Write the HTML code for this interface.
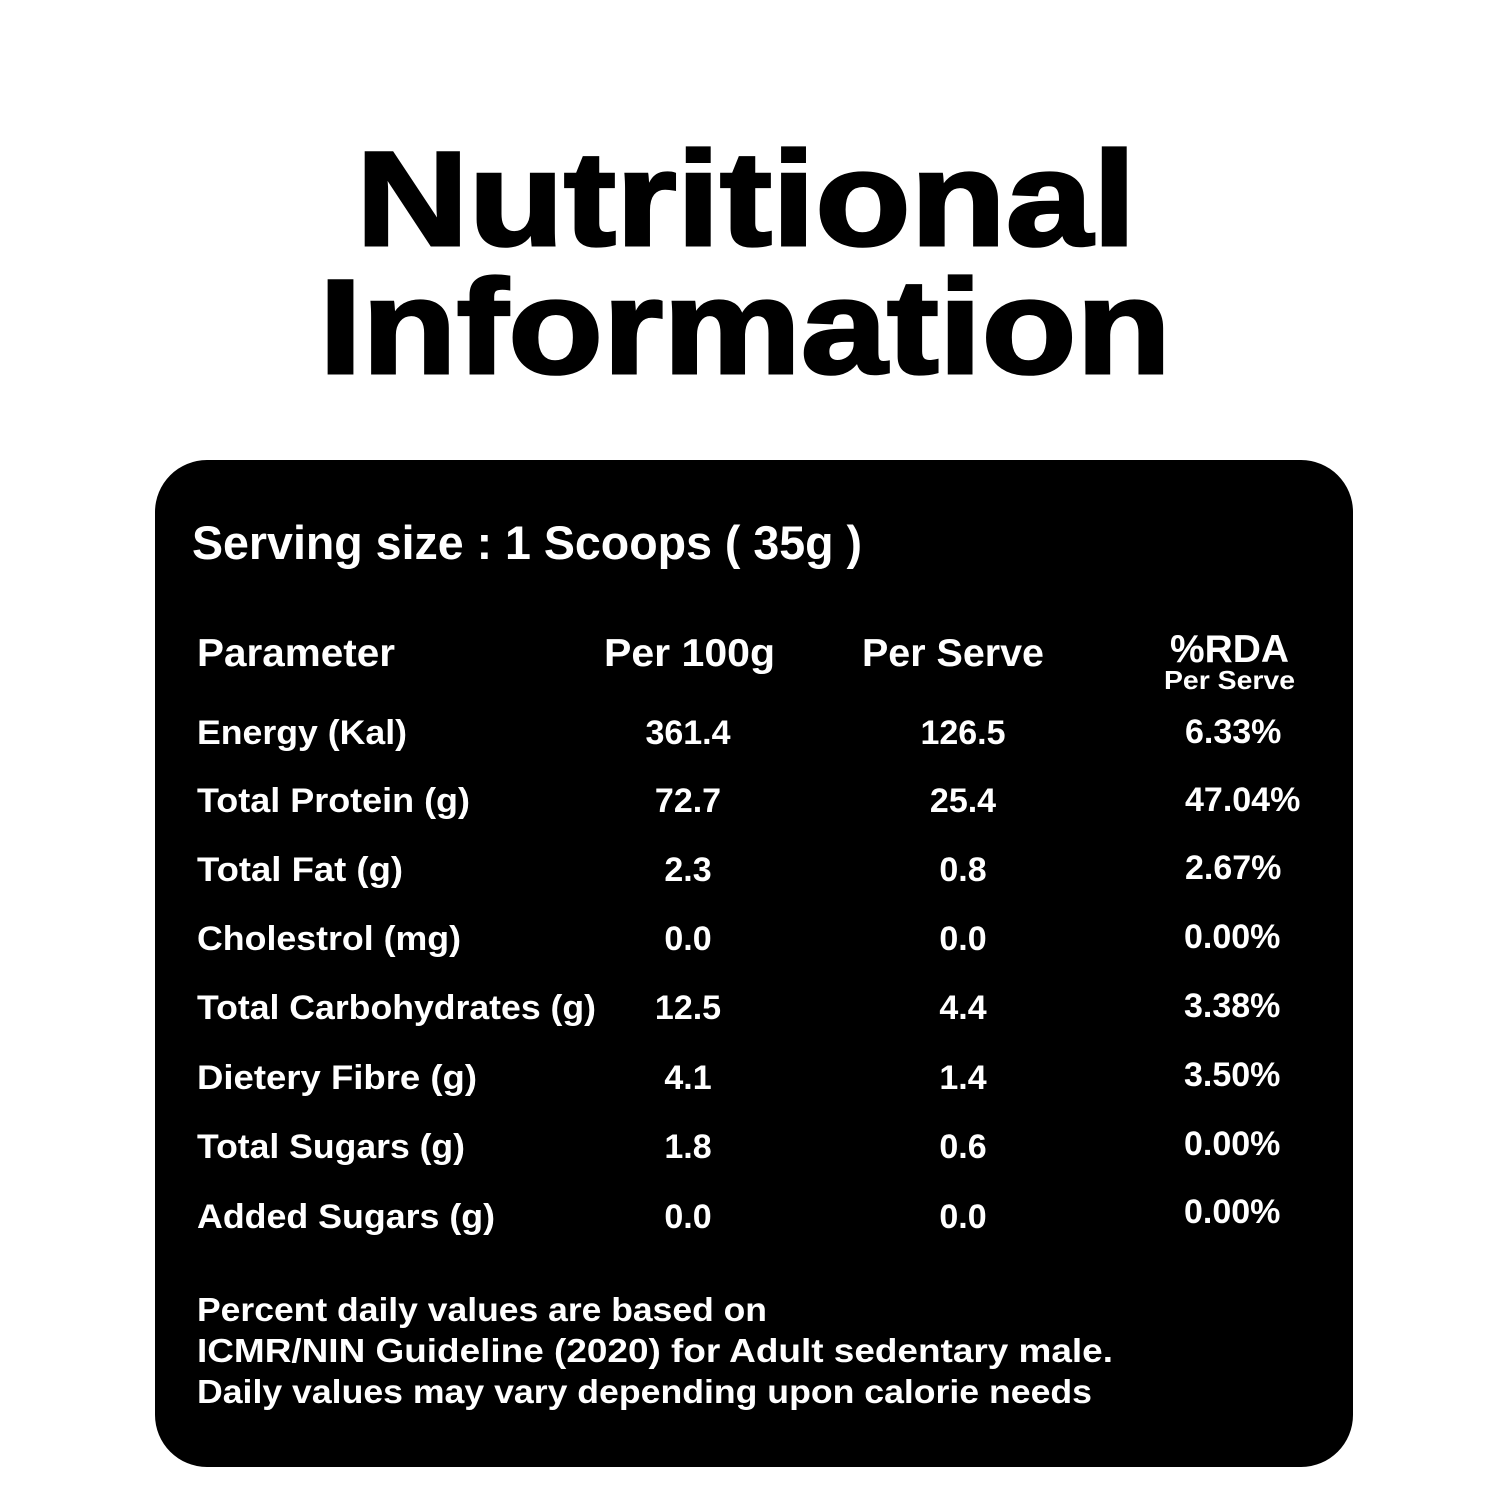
<!DOCTYPE html>
<html><head><meta charset="utf-8"><style>
html,body{margin:0;padding:0;background:#fff;}
svg{display:block;}
text{font-family:"Liberation Sans",sans-serif;font-weight:bold;fill:#fff;}
</style></head><body>
<svg width="1499" height="1499" viewBox="0 0 1499 1499" xmlns="http://www.w3.org/2000/svg">
<rect width="1499" height="1499" fill="#fff"/>
<text x="356" y="245" font-size="134" style="fill:#000;stroke:#000;stroke-width:3" textLength="780" lengthAdjust="spacingAndGlyphs">Nutritional</text>
<text x="319" y="373" font-size="134" style="fill:#000;stroke:#000;stroke-width:3" textLength="852" lengthAdjust="spacingAndGlyphs">Information</text>
<rect x="155" y="460" width="1198" height="1007" rx="52" fill="#000"/>
<text x="192" y="559" font-size="47" textLength="670" lengthAdjust="spacingAndGlyphs">Serving size : 1 Scoops ( 35g )</text>
<g font-size="39">
<text x="197" y="666" textLength="198" lengthAdjust="spacingAndGlyphs">Parameter</text>
<text x="604" y="666" textLength="171" lengthAdjust="spacingAndGlyphs">Per 100g</text>
<text x="862" y="666" textLength="182" lengthAdjust="spacingAndGlyphs">Per Serve</text>
<text x="1170" y="662" textLength="119" lengthAdjust="spacingAndGlyphs">%RDA</text>
</g>
<text x="1164" y="689" font-size="26" textLength="131" lengthAdjust="spacingAndGlyphs">Per Serve</text>
<g font-size="34" font-weight="normal">
<text x="197" y="744" textLength="210" lengthAdjust="spacingAndGlyphs">Energy (Kal)</text>
<text x="197" y="812" textLength="273" lengthAdjust="spacingAndGlyphs">Total Protein (g)</text>
<text x="197" y="881" textLength="206" lengthAdjust="spacingAndGlyphs">Total Fat (g)</text>
<text x="197" y="950" textLength="264" lengthAdjust="spacingAndGlyphs">Cholestrol (mg)</text>
<text x="197" y="1019" textLength="399" lengthAdjust="spacingAndGlyphs">Total Carbohydrates (g)</text>
<text x="197" y="1089" textLength="280" lengthAdjust="spacingAndGlyphs">Dietery Fibre (g)</text>
<text x="197" y="1158" textLength="268" lengthAdjust="spacingAndGlyphs">Total Sugars (g)</text>
<text x="197" y="1228" textLength="298" lengthAdjust="spacingAndGlyphs">Added Sugars (g)</text>
</g>
<g font-size="34" text-anchor="middle">
<text x="688" y="744">361.4</text><text x="963" y="744">126.5</text>
<text x="688" y="812">72.7</text><text x="963" y="812">25.4</text>
<text x="688" y="881">2.3</text><text x="963" y="881">0.8</text>
<text x="688" y="950">0.0</text><text x="963" y="950">0.0</text>
<text x="688" y="1019">12.5</text><text x="963" y="1019">4.4</text>
<text x="688" y="1089">4.1</text><text x="963" y="1089">1.4</text>
<text x="688" y="1158">1.8</text><text x="963" y="1158">0.6</text>
<text x="688" y="1228">0.0</text><text x="963" y="1228">0.0</text>
</g>
<g font-size="34">
<text x="1185" y="743">6.33%</text>
<text x="1185" y="811">47.04%</text>
<text x="1185" y="879">2.67%</text>
<text x="1184" y="948">0.00%</text>
<text x="1184" y="1017">3.38%</text>
<text x="1184" y="1086">3.50%</text>
<text x="1184" y="1155">0.00%</text>
<text x="1184" y="1223">0.00%</text>
</g>
<g font-size="33">
<text x="197" y="1321" textLength="570" lengthAdjust="spacingAndGlyphs">Percent daily values are based on</text>
<text x="197" y="1362" textLength="916" lengthAdjust="spacingAndGlyphs">ICMR/NIN Guideline (2020) for Adult sedentary male.</text>
<text x="197" y="1403" textLength="895" lengthAdjust="spacingAndGlyphs">Daily values may vary depending upon calorie needs</text>
</g>
</svg>
</body></html>
